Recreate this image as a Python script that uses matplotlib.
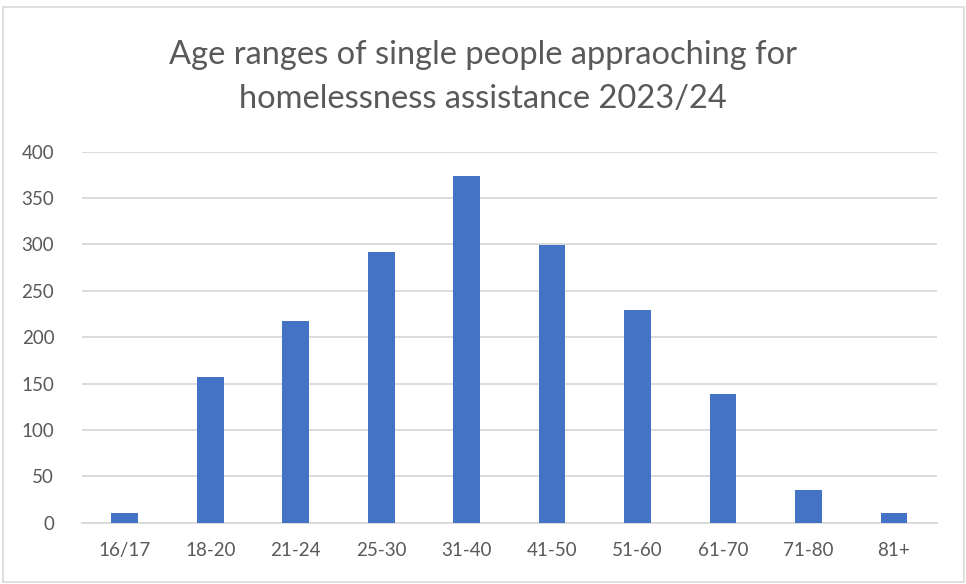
import matplotlib
matplotlib.use("Agg")
import matplotlib.pyplot as plt
from matplotlib.patches import Rectangle

categories = ["16/17", "18-20", "21-24", "25-30", "31-40", "41-50", "51-60", "61-70", "71-80", "81+"]
values = [10, 157, 218, 292, 374, 299, 229, 139, 35, 10]
yticks = [0, 50, 100, 150, 200, 250, 300, 350, 400]
title = "Age ranges of single people appraoching for\nhomelessness assistance 2023/24"

plt.rcParams["font.family"] = ["Lato", "DejaVu Sans"]
text_color = "#595959"

fig = plt.figure(figsize=(9.66, 5.84), dpi=100)
ax = fig.add_axes([0.0849, 0.105, 0.9697 - 0.0849, 0.7402 - 0.105])

x = list(range(len(categories)))
ax.bar(x, values, width=0.313, color="#4472C4", zorder=3)
ax.set_xlim(-0.5, len(categories) - 0.5)
ax.set_ylim(0, 400)
ax.set_yticks(yticks)
ax.set_xticks(x)
ax.set_xticklabels(categories)
ax.yaxis.grid(True, color="#D9D9D9", linewidth=1.3, zorder=0)
ax.set_axisbelow(True)
for s in ["top", "right", "left"]:
    ax.spines[s].set_visible(False)
ax.spines["bottom"].set_color("#D9D9D9")
ax.spines["bottom"].set_linewidth(1.3)
ax.tick_params(axis="both", length=0, labelsize=13.5, colors=text_color)
ax.tick_params(axis="x", pad=14)
ax.tick_params(axis="y", pad=20)

fig.text(0.5, 0.868, title, ha="center", va="center", fontsize=23.5,
         color=text_color, linespacing=1.6)

fig.patches.append(Rectangle((3 / 966, 2 / 584), 961 / 966, 575 / 584,
                             transform=fig.transFigure, fill=False,
                             edgecolor="#D9D9D9", linewidth=1.2))

fig.savefig("out.png", dpi=100)
